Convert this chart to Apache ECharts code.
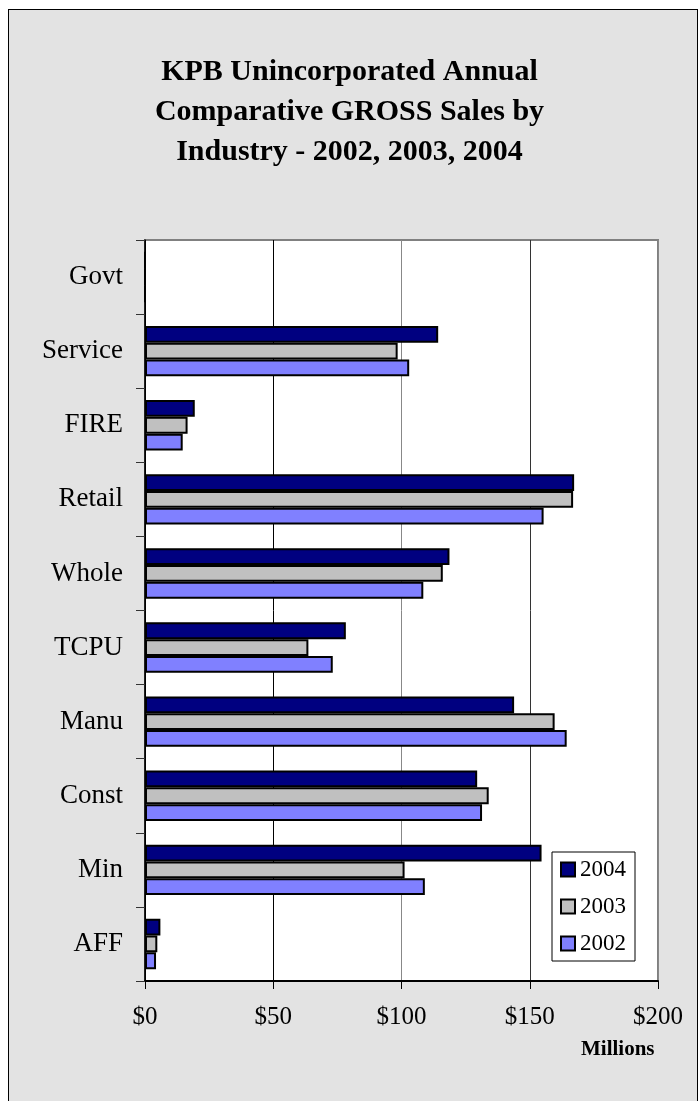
<!DOCTYPE html>
<html>
<head>
<meta charset="utf-8">
<script src="https://cdn.jsdelivr.net/npm/echarts@6/dist/echarts.min.js"></script>
<style>
    html, body { margin: 0; padding: 0; background: #fff; }
    #frame {
        position: absolute; left: 8px; top: 9px;
        width: 688px; height: 1200px;
        border: 1px solid #000; background: #e3e3e3;
    }
    #chart { position: absolute; left: 0; top: 0; width: 699px; height: 1101px; }
</style>
</head>
<body>
<div id="frame"></div>
<div id="chart"></div>
<script>
// categories, bottom to top
const categories = ['AFF', 'Min', 'Const', 'Manu', 'TCPU', 'Whole', 'Retail', 'FIRE', 'Service', 'Govt'];
// gross sales, millions of dollars
const sales2002 = [4.3, 109.1, 131.4, 164.4, 73.2, 108.5, 155.4, 14.7, 103.0, 0];
const sales2003 = [4.8, 101.2, 134.0, 159.7, 63.7, 116.1, 166.9, 16.6, 98.5, 0];
const sales2004 = [6.0, 154.6, 129.5, 143.9, 78.3, 118.7, 167.3, 19.4, 114.3, 0];
const xTicks = [0, 50, 100, 150, 200];

const SERIF = 'Liberation Serif';

const barSeries = (name, data, color) => ({
    name: name,
    type: 'bar',
    data: data,
    barGap: '0%',
    barCategoryGap: '32%',
    itemStyle: {
        color: color,
        borderColor: '#000',
        borderWidth: 2
    }
})

const myChart = echarts.init(document.getElementById('chart'));
myChart.setOption({
    animation: false,
    title: {
        text: 'KPB Unincorporated Annual\nComparative GROSS Sales by\nIndustry - 2002, 2003, 2004',
        left: 'center',
        top: 52,
        padding: 0,
        textStyle: {
            fontFamily: SERIF,
            fontWeight: 'bold',
            fontSize: 30,
            lineHeight: 40,
            color: '#000'
        }
    },
    legend: {
        data: ['2004', '2003', '2002'],
        orient: 'vertical',
        left: 552,
        top: 852,
        icon: 'rect',
        itemWidth: 14,
        itemHeight: 14,
        itemGap: 14,
        itemTextGap: 3,
        padding: [6, 9, 6, 8],
        backgroundColor: '#fff',
        borderColor: '#000',
        borderWidth: 1,
        borderRadius: 0,
        textStyle: {
            fontFamily: SERIF,
            fontSize: 23,
            color: '#000'
        }
    },
    grid: {
        left: 145,
        right: 41,
        top: 240,
        bottom: 120,
        show: true,
        backgroundColor: '#fff',
        borderColor: '#808080',
        borderWidth: 2
    },
    xAxis: {
        type: 'value',
        min: xTicks[0],
        max: xTicks[xTicks.length - 1],
        interval: xTicks[1] - xTicks[0],
        axisLine: { show: true, lineStyle: { color: '#000', width: 2 } },
        axisTick: { show: true, length: 8, lineStyle: { color: '#000' } },
        axisLabel: {
            formatter: '${value}',
            fontFamily: SERIF,
            fontSize: 25,
            color: '#000',
            margin: 24
        },
        splitLine: {
            show: true,
            lineStyle: { color: ['#000', '#000', '#888', '#333', '#888'], width: 1 }
        }
    },
    yAxis: {
        type: 'category',
        data: categories,
        axisLine: { show: true, lineStyle: { color: '#000', width: 1.5 } },
        axisTick: { show: true, length: 9, lineStyle: { color: '#333' } },
        axisLabel: {
            fontFamily: SERIF,
            fontSize: 27,
            color: '#000',
            margin: 22
        },
        splitLine: { show: false }
    },
    graphic: [
        {
            type: 'text',
            left: 581,
            top: 1039,
            style: {
                text: 'Millions',
                fontFamily: SERIF,
                fontWeight: 'bold',
                fontSize: 21,
                fill: '#000'
            }
        }
    ],
    // first series sits lowest in each group, so 2004 goes last to end up on top
    series: [
        barSeries('2004', sales2004, '#000080'),
        barSeries('2003', sales2003, '#c0c0c0'),
        barSeries('2002', sales2002, '#8080ff')
    ]
})
</script>
</body>
</html>
